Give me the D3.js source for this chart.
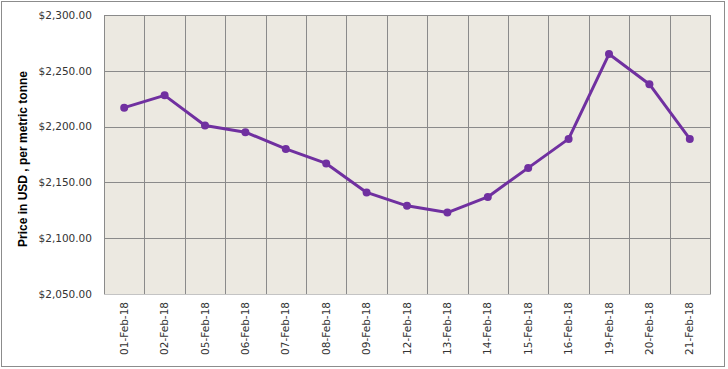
<!DOCTYPE html>
<html><head><meta charset="utf-8">
<script src="https://cdn.jsdelivr.net/npm/d3@7"></script>
<style>body{margin:0;background:#fff}svg{display:block}</style>
</head><body>
<svg id="c" width="728" height="369"></svg>
<script>
const categories = ["01-Feb-18","02-Feb-18","05-Feb-18","06-Feb-18","07-Feb-18","08-Feb-18","09-Feb-18","12-Feb-18","13-Feb-18","14-Feb-18","15-Feb-18","16-Feb-18","19-Feb-18","20-Feb-18","21-Feb-18"];
const prices = [2217,2228,2201,2195,2180,2167,2141,2129,2123,2137,2163,2189,2265,2238,2189];
const yTicks = [2050,2100,2150,2200,2250,2300];
const yTitle = "Price in USD , per metric tonne";

const svg = d3.select("#c");
const m = {left:104, right:710, top:15, bottom:294};
const font = "DejaVu Sans, Verdana, sans-serif";

svg.append("rect").attr("x",1.5).attr("y",1.5).attr("width",723).attr("height",365)
  .attr("fill","#fff").attr("stroke","#8c8c8c").attr("stroke-width",1);

const x = d3.scaleBand().domain(categories).range([m.left,m.right]).padding(0);
const y = d3.scaleLinear().domain([2050,2300]).range([m.bottom,m.top]);

svg.append("rect").attr("x",m.left).attr("y",m.top).attr("width",m.right-m.left).attr("height",m.bottom-m.top)
  .attr("fill","#ECE9E1");

// horizontal gridlines
svg.append("g").selectAll("line").data(yTicks.filter(d=>d!==2050)).join("line")
  .attr("x1",m.left).attr("x2",m.right)
  .attr("y1",d=>Math.round(y(d))+0.5).attr("y2",d=>Math.round(y(d))+0.5)
  .attr("stroke","#8a8a8a").attr("stroke-width",1);

// vertical gridlines at category boundaries
const bounds = categories.map(c=>x(c)).concat([x(categories[categories.length-1])+x.bandwidth()]);
svg.append("g").selectAll("line").data(bounds).join("line")
  .attr("x1",d=>Math.round(d)+0.5).attr("x2",d=>Math.round(d)+0.5)
  .attr("y1",m.top).attr("y2",m.bottom)
  .attr("stroke","#8a8a8a").attr("stroke-width",1);

// bottom axis line
svg.append("line").attr("x1",m.left).attr("x2",m.right+1)
  .attr("y1",Math.round(y(2050))+0.5).attr("y2",Math.round(y(2050))+0.5)
  .attr("stroke","#c4c4c4").attr("stroke-width",1);

// y axis labels
const yAxis = d3.axisLeft(y).tickValues(yTicks).tickSize(0).tickPadding(12)
  .tickFormat(d=>"$"+d3.format(",.2f")(d));
const gy = svg.append("g").attr("transform",`translate(${m.left},0)`).call(yAxis);
gy.select(".domain").remove();
gy.selectAll("text").attr("font-family",font).attr("font-size","10.5px").attr("fill","#333");

// x axis labels
const xAxis = d3.axisBottom(x).tickSize(0).tickPadding(0);
const gx = svg.append("g").attr("transform",`translate(0,${m.bottom})`).call(xAxis);
gx.select(".domain").remove();
gx.selectAll("text").attr("font-family",font).attr("font-size","10.5px").attr("fill","#333")
  .attr("text-anchor","end").attr("transform","rotate(-90)")
  .attr("x",-8).attr("y",0).attr("dy","0.35em");

// y title
svg.append("text").attr("transform","translate(27,159) rotate(-90)")
  .attr("text-anchor","middle").attr("font-family","Liberation Sans, Arial, sans-serif")
  .attr("font-weight","bold").attr("font-size","12px").attr("fill","#000").text(yTitle);

// line
const line = d3.line().x((d,i)=>x(categories[i])+x.bandwidth()/2).y(d=>y(d));
svg.append("path").datum(prices).attr("d",line).attr("fill","none")
  .attr("stroke","#7030A0").attr("stroke-width",3).attr("stroke-linejoin","round");
svg.append("g").selectAll("circle").data(prices).join("circle")
  .attr("cx",(d,i)=>x(categories[i])+x.bandwidth()/2).attr("cy",d=>y(d)).attr("r",4)
  .attr("fill","#7030A0");
</script>
</body></html>
